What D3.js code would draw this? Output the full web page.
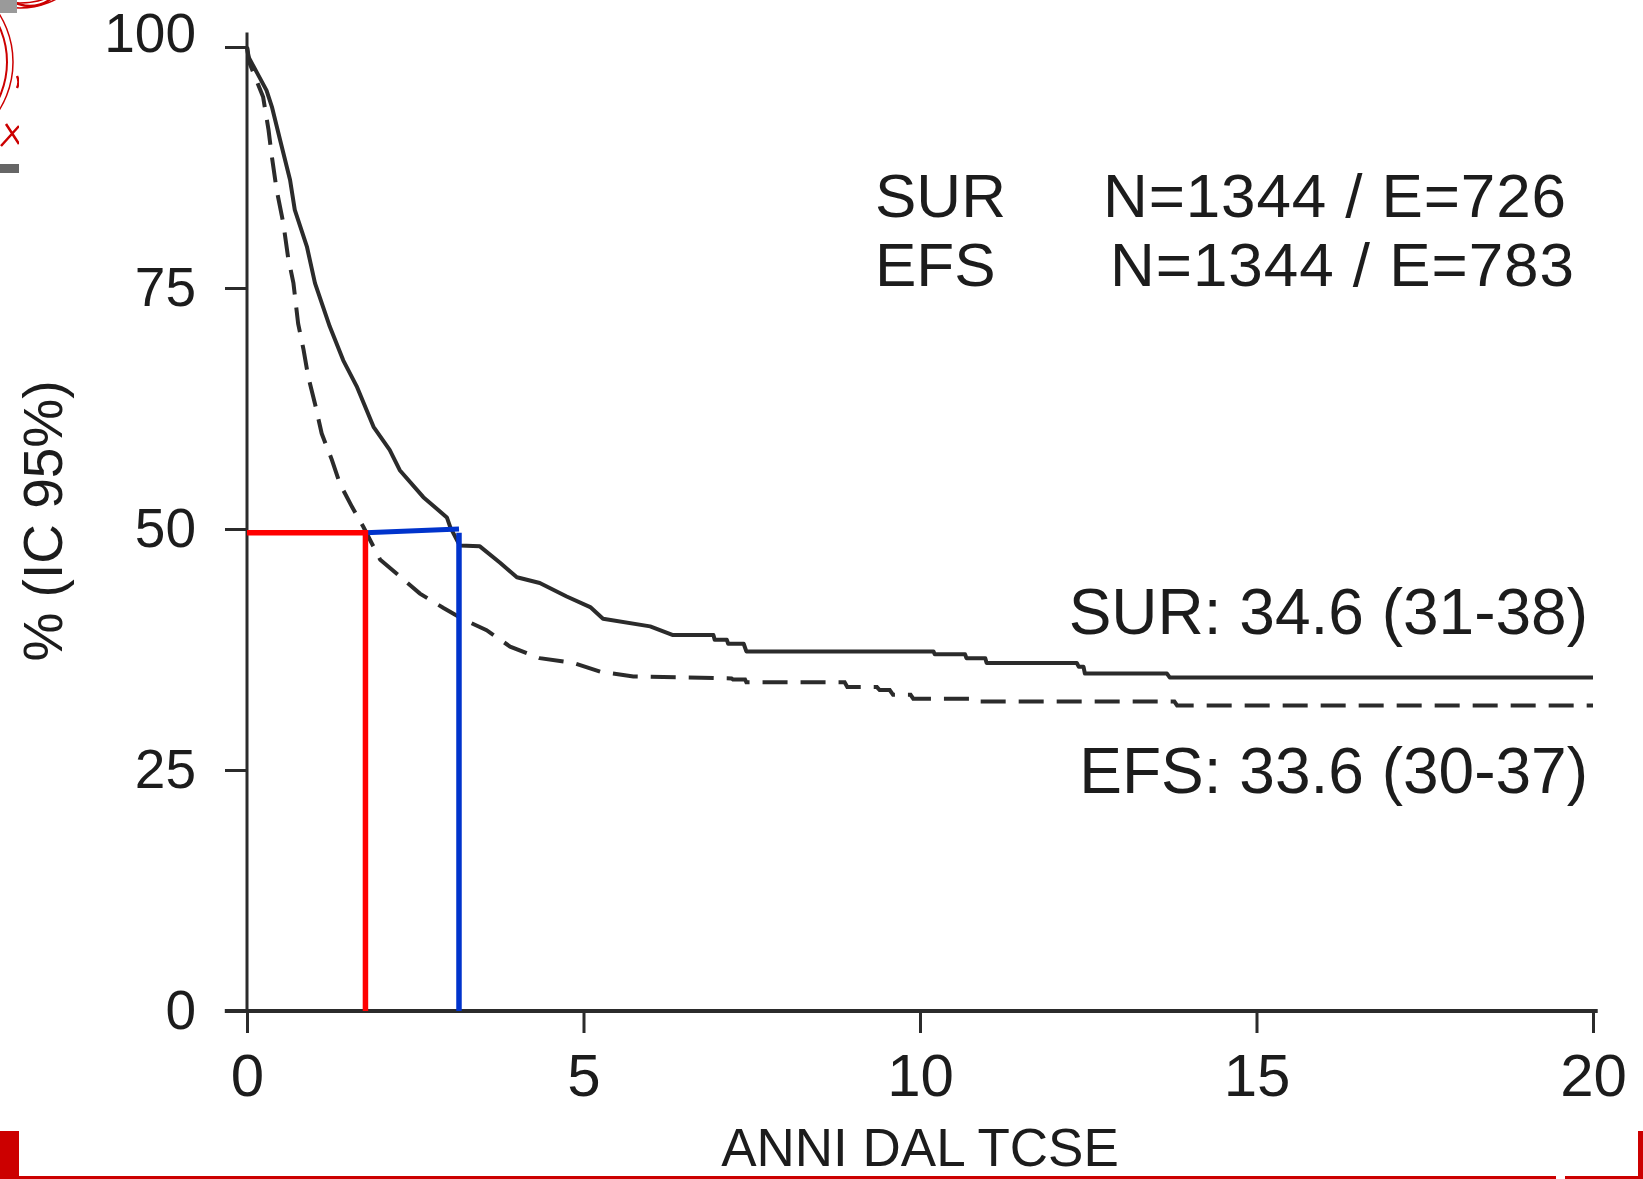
<!DOCTYPE html>
<html>
<head>
<meta charset="utf-8">
<script src="https://cdn.jsdelivr.net/npm/d3@7"></script>
<style>
  html, body { margin: 0; padding: 0; background: #ffffff; }
  svg { display: block; }
  text { font-family: "Liberation Sans", Arial, Helvetica, sans-serif; fill: #1c1c1c; }
</style>
</head>
<body>
<svg id="chart" width="1643" height="1179"></svg>
<script>
// Kaplan–Meier curves after HSCT: overall survival (SUR) and event-free survival (EFS).
// Each series lists the corner points of the curve (years, % surviving).
const surTimes  = [0, 0.02, 0.29, 0.37, 0.49, 0.64, 0.71, 0.89, 1.01, 1.23, 1.43, 1.63, 1.88, 2.12, 2.27, 2.62, 2.97, 3.02, 3.16, 3.46, 3.76, 4.01, 4.35, 4.75, 5.1, 5.29, 5.99, 6.33, 6.93, 6.95, 7.13, 7.15, 7.38, 7.42, 10.2, 10.22, 10.67, 10.69, 10.97, 10.99, 12.33, 12.36, 12.43, 12.45, 13.67, 13.71, 20];
const surValues = [100, 99.0, 95.5, 93.8, 90.4, 86.2, 83.1, 79.3, 75.5, 71.0, 67.5, 64.8, 60.6, 58.2, 56.1, 53.3, 51.2, 50.2, 48.3, 48.2, 46.5, 45.0, 44.4, 43.0, 41.9, 40.7, 39.9, 39.0, 39.0, 38.5, 38.5, 38.1, 38.1, 37.3, 37.3, 37.0, 37.0, 36.6, 36.6, 36.1, 36.1, 35.7, 35.7, 35.0, 35.0, 34.6, 34.6];

const efsTimes  = [0, 0.04, 0.24, 0.32, 0.37, 0.44, 0.54, 0.61, 0.69, 0.76, 0.84, 0.91, 1.01, 1.11, 1.26, 1.38, 1.56, 1.73, 1.98, 2.27, 2.57, 2.92, 3.22, 3.56, 3.91, 4.35, 4.85, 5.25, 5.74, 7.2, 7.22, 7.4, 7.42, 8.88, 8.92, 9.36, 9.4, 9.55, 9.6, 9.86, 9.9, 10.75, 10.79, 13.78, 13.82, 20];
const efsValues = [100, 98.3, 94.8, 91.4, 88.6, 85.2, 81.7, 78.2, 75.5, 71.3, 68.6, 65.8, 63.0, 59.9, 57.2, 54.7, 52.3, 50.2, 46.8, 45.1, 43.3, 41.8, 40.6, 39.5, 37.8, 36.6, 36.1, 35.2, 34.7, 34.5, 34.4, 34.4, 34.1, 34.1, 33.6, 33.6, 33.3, 33.3, 32.8, 32.8, 32.4, 32.4, 32.1, 32.1, 31.7, 31.7];

// Median survival read-off lines (years, %)
const efsMedian = { time: 1.76, level: 49.6 };
const surMedian = { time: 3.15, level: 50.0 };

const xTicks = [0, 5, 10, 15, 20];
const yTicks = [0, 25, 50, 75, 100];

const legendRows = [
  { name: "SUR", stat: "N=1344 / E=726" },
  { name: "EFS", stat: "N=1344 / E=783" }
];
const estimateLabels = ["SUR: 34.6 (31-38)", "EFS: 33.6 (30-37)"];
const xTitle = "ANNI DAL TCSE";
const yTitle = "% (IC 95%)";

const svg = d3.select("#chart");
const ink = "#2b2b2b";

const x = d3.scaleLinear().domain([0, 20]).range([247, 1593]);
const y = d3.scaleLinear().domain([0, 100]).range([1011, 47]);

// ---- slide frame decorations ----
const deco = svg.append("g");
deco.append("rect").attr("x", 0).attr("y", 0).attr("width", 17).attr("height", 13).attr("fill", "#9a9a9a");
deco.append("rect").attr("x", 0).attr("y", 164).attr("width", 19).attr("height", 9).attr("fill", "#666666");

// partial seal at the top-left corner
svg.append("clipPath").attr("id", "sealClip")
  .append("path").attr("d", "M0,13 H19 V150 H0 Z M17,0 H72 V12 H17 Z");
const seal = deco.append("g").attr("clip-path", "url(#sealClip)")
  .attr("fill", "none").attr("stroke", "#cc0000");
seal.append("circle").attr("cx", -78).attr("cy", 62).attr("r", 85).attr("stroke-width", 2);
seal.append("circle").attr("cx", -78).attr("cy", 62).attr("r", 91).attr("stroke-width", 1.5);
seal.append("circle").attr("cx", 30).attr("cy", -28).attr("r", 34).attr("stroke-width", 2.5);
seal.append("circle").attr("cx", 20).attr("cy", -70).attr("r", 78).attr("stroke-width", 1.5);
seal.append("circle").attr("cx", 20).attr("cy", -70).attr("r", 73).attr("stroke-width", 1.5);
seal.append("path").attr("d", "M1,146 L19,126 M6,124 L19,144 M17,76 Q20,82 17,88").attr("stroke-width", 2.5);

// ---- axes ----
const yAxis = d3.axisLeft(y).tickValues(yTicks).tickSize(22).tickPadding(29).tickSizeOuter(0);
const gy = svg.append("g").attr("transform", `translate(${x(0)},0)`).call(yAxis);
gy.select(".domain").remove();
gy.selectAll(".tick line").attr("stroke", ink).attr("stroke-width", 3);
gy.selectAll(".tick text").attr("font-size", 55).attr("fill", "#1c1c1c")
  .style("font-family", '"Liberation Sans", Arial, sans-serif');
gy.selectAll(".tick").filter(d => d === 100).select("text").attr("y", -13);
gy.append("line").attr("x1", 0).attr("x2", 0).attr("y1", y(0)).attr("y2", y(101.5))
  .attr("stroke", ink).attr("stroke-width", 3);

const xAxis = d3.axisBottom(x).tickValues(xTicks).tickSize(22).tickPadding(20).tickSizeOuter(0);
const gx = svg.append("g").attr("transform", `translate(0,${y(0)})`).call(xAxis);
gx.select(".domain").remove();
gx.selectAll(".tick line").attr("stroke", ink).attr("stroke-width", 3);
gx.selectAll(".tick text").attr("font-size", 60).attr("fill", "#1c1c1c")
  .style("font-family", '"Liberation Sans", Arial, sans-serif');
gx.append("line").attr("x1", x(-0.33)).attr("x2", x(20.07)).attr("y1", 0).attr("y2", 0)
  .attr("stroke", ink).attr("stroke-width", 4);

// ---- survival curves ----
const curve = d3.line().x(d => x(d[0])).y(d => y(d[1]));
const surData = surTimes.map((t, i) => [t, surValues[i]]);
const efsData = efsTimes.map((t, i) => [t, efsValues[i]]);

svg.append("path").datum(surData).attr("d", curve)
  .attr("fill", "none").attr("stroke", ink).attr("stroke-width", 4)
  .attr("stroke-linejoin", "round");
svg.append("path").datum(efsData).attr("d", curve)
  .attr("fill", "none").attr("stroke", ink).attr("stroke-width", 4)
  .attr("stroke-dasharray", "25,13");

// ---- median read-off lines ----
svg.append("path")
  .datum([[efsMedian.time, efsMedian.level], [surMedian.time, surMedian.level]])
  .attr("d", curve).attr("fill", "none").attr("stroke", "#0033cc").attr("stroke-width", 5);
svg.append("path")
  .datum([[surMedian.time, efsMedian.level], [surMedian.time, 0]])
  .attr("d", curve).attr("fill", "none").attr("stroke", "#0033cc").attr("stroke-width", 5.5);
svg.append("path")
  .datum([[0, efsMedian.level], [efsMedian.time, efsMedian.level], [efsMedian.time, 0]])
  .attr("d", curve).attr("fill", "none").attr("stroke", "#ff0000").attr("stroke-width", 5.5);

// ---- legend ----
const legendBase = [217, 286];
const statStart = [1103, 1110];
const statLen = [463, 464];
legendRows.forEach((r, i) => {
  svg.append("text").attr("x", 875).attr("y", legendBase[i]).attr("font-size", 62).text(r.name);
  svg.append("text").attr("x", statStart[i]).attr("y", legendBase[i]).attr("font-size", 62)
    .attr("textLength", statLen[i]).attr("lengthAdjust", "spacing").text(r.stat);
});

// ---- estimate labels ----
const estBase = [634, 793];
estimateLabels.forEach((s, i) => {
  svg.append("text").attr("x", 1588).attr("y", estBase[i]).attr("text-anchor", "end")
    .attr("font-size", 64).text(s);
});

// ---- axis titles ----
svg.append("text").attr("x", 920).attr("y", 1166).attr("text-anchor", "middle")
  .attr("font-size", 53).text(xTitle);
svg.append("text").attr("transform", "translate(62,521) rotate(-90)").attr("text-anchor", "middle")
  .attr("font-size", 55).text(yTitle);

// bottom red frame of the slide
deco.raise();
deco.append("rect").attr("x", 0).attr("y", 1131).attr("width", 19).attr("height", 48).attr("fill", "#cc0000");
deco.append("rect").attr("x", 0).attr("y", 1176).attr("width", 1556).attr("height", 3).attr("fill", "#cc0000");
deco.append("rect").attr("x", 1565).attr("y", 1176).attr("width", 78).attr("height", 3).attr("fill", "#cc0000");
deco.append("rect").attr("x", 1638).attr("y", 1131).attr("width", 5).attr("height", 48).attr("fill", "#cc0000");
</script>
</body>
</html>
